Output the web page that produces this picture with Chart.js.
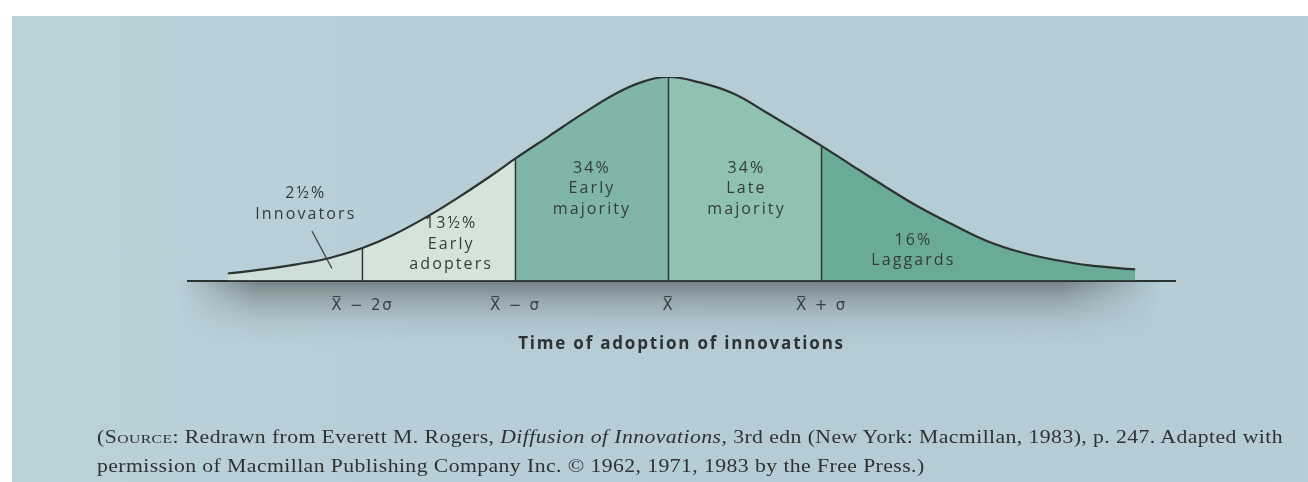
<!DOCTYPE html>
<html>
<head>
<meta charset="utf-8">
<script src="https://cdn.jsdelivr.net/npm/chart.js@4.4.1/dist/chart.umd.min.js"></script>
<style>
  html, body { margin: 0; padding: 0; background: #ffffff; }
  body { width: 1308px; height: 482px; position: relative; overflow: hidden; }
  #paper {
    position: absolute; left: 12px; top: 16px; right: 0; bottom: 0;
    background: linear-gradient(90deg, #bcd2d9 0%, #b8cfd7 25%, #b5ccd5 60%, #b6cdd5 100%);
  }
  #wrap { position: absolute; left: 0; top: 0; width: 1308px; height: 482px; }
  #src {
    position: absolute; left: 97px; top: 423px;
    font-family: "Liberation Serif", "DejaVu Serif", serif;
    font-size: 18px; line-height: 29px; color: #2e3233; white-space: nowrap;
    letter-spacing: 0.35px; transform-origin: 0 0;
  }
  #src .sc { font-variant: small-caps; }
</style>
</head>
<body>
<div id="paper"></div>
<div id="wrap"><canvas id="c" width="1308" height="482"></canvas></div>
<div id="src"><span id="line1">(<span class="sc">Source</span>: Redrawn from Everett M. Rogers, <i>Diffusion of Innovations</i>, 3rd edn (New York: Macmillan, 1983), p. 247. Adapted with</span><br><span id="line2">permission of Macmillan Publishing Company Inc. © 1962, 1971, 1983 by the Free Press.)</span></div>
<script>
// Adoption curve: time in standard deviations from the mean, share of adopters (peak = 100)
const curveX = [-2.88, -2.65, -2.43, -2.22, -2, -1.8, -1.58, -1.37, -1.15, -1, -0.78, -0.56, -0.34, -0.17, 0,
                0.2, 0.42, 0.64, 0.86, 1, 1.2, 1.42, 1.64, 1.86, 2.08, 2.31, 2.54, 2.75, 3.05];
const curveY = [3.5, 5.5, 8, 11, 16, 22.4, 31.3, 41, 52, 60, 71, 82, 92, 97.6, 100,
                97.4, 92, 82.6, 72.6, 66.2, 56.5, 46, 36, 27.4, 19.5, 13.8, 10, 7.5, 5.5];

// Adopter categories: where each begins on the time axis
const categoryStart = [-Infinity, -2, -1, 0, 1];
const categoryColors = ['#cddfd8', '#d4e4db', '#80b6aa', '#90c2b3', '#6aab97'];
const categoryText = [
  ['2½%', 'Innovators'],
  ['13½%', 'Early', 'adopters'],
  ['34%', 'Early', 'majority'],
  ['34%', 'Late', 'majority'],
  ['16%', 'Laggards']
];
// label anchor (first line) in axis units
const categoryLabelX = [-2.37, -1.42, -0.50, 0.51, 1.60];
const categoryLabelY = [42.8, 27.9, 55.2, 55.2, 19.9];

// Category boundaries and tick labels
const tickValues = [-2, -1, 0, 1];
const tickLabels = ['X\u0305 \u2212 2\u03C3', 'X\u0305 \u2212 \u03C3', 'X\u0305', 'X\u0305 + \u03C3'];

const axisTitle = 'Time of adoption of innovations';

function categoryIndex(x) {
  let idx = 0;
  for (let i = 0; i < categoryStart.length; i++) if (x >= categoryStart[i] - 1e-9) idx = i;
  return idx;
}

const curvePoints = curveX.map((x, i) => ({ x, y: curveY[i] }));

// vertical divider at each boundary, up to the curve
const dividerSets = tickValues.map(b => {
  const h = curveY[curveX.indexOf(b)];
  return {
    type: 'line',
    data: [{ x: b, y: 0 }, { x: b, y: h }],
    borderColor: '#2f3837',
    borderWidth: 1.5,
    pointRadius: 0,
    fill: false,
    tension: 0,
    order: 1
  };
});

// gray shading under the baseline
const shadowPlugin = {
  id: 'baseShadow',
  beforeDraw(chart) {
    const { ctx, chartArea } = chart;
    const x0 = chartArea.left - 10, x1 = chartArea.right - 15;
    const y0 = chartArea.bottom, hgt = 66;
    const off = document.createElement('canvas');
    off.width = chart.width; off.height = hgt;
    const o = off.getContext('2d');
    const vg = o.createLinearGradient(0, 0, 0, hgt);
    vg.addColorStop(0, 'rgba(70,76,78,0.6)');
    vg.addColorStop(0.3, 'rgba(95,102,105,0.36)');
    vg.addColorStop(0.65, 'rgba(120,128,132,0.12)');
    vg.addColorStop(1, 'rgba(130,140,145,0)');
    o.fillStyle = vg;
    o.fillRect(0, 0, off.width, hgt);
    o.globalCompositeOperation = 'destination-in';
    const hg = o.createLinearGradient(x0, 0, x1, 0);
    hg.addColorStop(0, 'rgba(0,0,0,0)');
    hg.addColorStop(0.08, 'rgba(0,0,0,1)');
    hg.addColorStop(0.9, 'rgba(0,0,0,1)');
    hg.addColorStop(1, 'rgba(0,0,0,0)');
    o.fillStyle = hg;
    o.fillRect(0, 0, off.width, hgt);
    ctx.save();
    ctx.drawImage(off, 0, y0);
    ctx.restore();
    ctx.letterSpacing = '1.8px';
  }
};

// category names and shares, plus the pointer to the innovators
const labelPlugin = {
  id: 'categoryLabels',
  afterDatasetsDraw(chart) {
    const { ctx } = chart;
    const xs = chart.scales.x, ys = chart.scales.y;
    ctx.save();
    ctx.font = '16px "Open Sans", Lato, sans-serif';
    ctx.letterSpacing = '2.1px';
    ctx.fillStyle = '#353d3b';
    ctx.textAlign = 'center';
    ctx.textBaseline = 'middle';
    categoryText.forEach((lines, i) => {
      const px = xs.getPixelForValue(categoryLabelX[i]);
      const py = ys.getPixelForValue(categoryLabelY[i]);
      lines.forEach((t, k) => ctx.fillText(t, px, py + k * 20.5));
    });
    ctx.strokeStyle = '#3a4241';
    ctx.lineWidth = 1.2;
    ctx.beginPath();
    ctx.moveTo(xs.getPixelForValue(-2.33), ys.getPixelForValue(24.4));
    ctx.lineTo(xs.getPixelForValue(-2.20), ys.getPixelForValue(6));
    ctx.stroke();
    ctx.restore();
  }
};

new Chart(document.getElementById('c'), {
  type: 'line',
  data: {
    datasets: [
      {
        data: curvePoints,
        borderColor: '#2b3331',
        borderWidth: 2.2,
        pointRadius: 0,
        tension: 0.4,
        fill: 'origin',
        backgroundColor: categoryColors[0],
        segment: {
          backgroundColor: ctx => categoryColors[categoryIndex(ctx.p0.parsed.x)]
        },
        order: 0
      },
      ...dividerSets
    ]
  },
  options: {
    responsive: false,
    animation: false,
    events: [],
    layout: { padding: { left: 188, right: 133, top: 77, bottom: 128 } },
    plugins: {
      legend: { display: false },
      tooltip: { enabled: false },
      filler: { drawTime: 'beforeDatasetsDraw' }
    },
    scales: {
      x: {
        type: 'linear',
        min: -3.14,
        max: 3.31,
        afterBuildTicks: s => { s.ticks = tickValues.map(v => ({ value: v })); },
        grid: { display: false, drawTicks: false },
        border: { display: true, color: '#2b3331', width: 2 },
        ticks: {
          autoSkip: false,
          maxRotation: 0,
          padding: 17,
          color: '#3a4241',
          font: { family: '"DejaVu Sans", sans-serif', size: 15 },
          callback: (v, i) => tickLabels[i]
        },
        title: {
          display: true,
          text: axisTitle,
          color: '#2e3433',
          font: { family: '"Open Sans", Lato, sans-serif', size: 17, weight: 'bold' },
          padding: { top: 1, bottom: 0 }
        }
      },
      y: { display: false, min: 0, max: 100 }
    }
  },
  plugins: [shadowPlugin, labelPlugin]
});

// widen the source note to its measure
(function fitSource() {
  const l1 = document.getElementById('line1');
  const src = document.getElementById('src');
  const target = 1186;
  const w = l1.getBoundingClientRect().width;
  src.style.transform = 'scaleX(' + (target / w).toFixed(4) + ')';
})();
</script>
</body>
</html>
